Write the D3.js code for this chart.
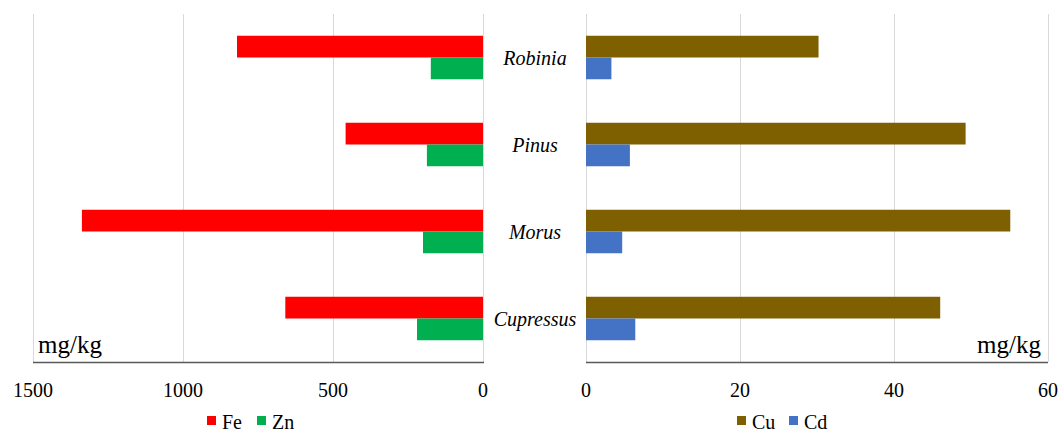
<!DOCTYPE html>
<meta charset="utf-8">
<style>
  body { margin: 0; background: #fff; }
  text { font-family: "Liberation Serif", "DejaVu Serif", serif; fill: #000; }
</style>
<body>
<script src="https://cdn.jsdelivr.net/npm/d3@7/dist/d3.min.js"></script>
<script>

    var width = 1059,
        height = 434;

    // data
    var species = ["Robinia", "Pinus", "Morus", "Cupressus"];
    var fe = [820, 458, 1337, 659];
    var zn = [174, 187, 200, 220];
    var cu = [30.2, 49.3, 55.1, 46.0];
    var cd = [3.3, 5.7, 4.7, 6.4];
    var leftTicks = [0, 500, 1000, 1500];
    var rightTicks = [0, 20, 40, 60];
    var leftSeries = ["Fe", "Zn"];
    var rightSeries = ["Cu", "Cd"];
    var colors = {Fe: "#ff0000", Zn: "#00b050", Cu: "#7f6000", Cd: "#4472c4"};

    var svg = d3.select("body").append("svg")
            .attr("width", width)
            .attr("height", height);

    var plotTop = 14, plotBottom = 362;

    var y = d3.scaleBand()
            .domain(species)
            .range([plotTop, plotBottom])
            .paddingInner(0.5)
            .paddingOuter(0.25);

    var xl = d3.scaleLinear().domain([0, 1500]).range([483, 33]);
    var xr = d3.scaleLinear().domain([0, 60]).range([586, 1048]);

    var subL = d3.scaleBand().domain(leftSeries).range([0, y.bandwidth()]);
    var subR = d3.scaleBand().domain(rightSeries).range([0, y.bandwidth()]);

    // gridlines
    function grid(scale, ticks) {
        svg.append("g").selectAll("line")
                .data(ticks)
                .enter().append("line")
                .attr("x1", function(d) { return Math.round(scale(d)) + 0.5; })
                .attr("x2", function(d) { return Math.round(scale(d)) + 0.5; })
                .attr("y1", plotTop)
                .attr("y2", plotBottom)
                .attr("stroke", "#d9d9d9")
                .attr("stroke-width", 1);
    }
    grid(xl, leftTicks);
    grid(xr, rightTicks);

    // bars
    var leftRows = species.map(function(s, i) { return {name: s, Fe: fe[i], Zn: zn[i]}; });
    var rightRows = species.map(function(s, i) { return {name: s, Cu: cu[i], Cd: cd[i]}; });

    function bars(rows, keys, scale, sub) {
        var g = svg.append("g").selectAll("g")
                .data(rows)
                .enter().append("g")
                .attr("transform", function(d) { return "translate(0," + y(d.name) + ")"; });
        g.selectAll("rect")
                .data(function(d) { return keys.map(function(k) { return {key: k, value: d[k]}; }); })
                .enter().append("rect")
                .attr("x", function(d) { return Math.min(scale(0), scale(d.value)); })
                .attr("width", function(d) { return Math.abs(scale(d.value) - scale(0)); })
                .attr("y", function(d) { return sub(d.key); })
                .attr("height", sub.bandwidth())
                .attr("fill", function(d) { return colors[d.key]; });
    }
    bars(leftRows, leftSeries, xl, subL);
    bars(rightRows, rightSeries, xr, subR);

    // axis lines
    svg.append("line")
            .attr("x1", xl(1500)).attr("x2", xl(0) + 1)
            .attr("y1", plotBottom + 0.5).attr("y2", plotBottom + 0.5)
            .attr("stroke", "#595959").attr("stroke-width", 1.5);
    svg.append("line")
            .attr("x1", xr(0)).attr("x2", xr(60))
            .attr("y1", plotBottom + 0.5).attr("y2", plotBottom + 0.5)
            .attr("stroke", "#595959").attr("stroke-width", 1.5);

    // tick labels
    function tickLabels(scale, ticks) {
        svg.append("g").selectAll("text")
                .data(ticks)
                .enter().append("text")
                .attr("x", function(d) { return scale(d); })
                .attr("y", 397)
                .attr("text-anchor", "middle")
                .style("font-size", "20px")
                .text(function(d) { return d; });
    }
    tickLabels(xl, leftTicks);
    tickLabels(xr, rightTicks);

    // species labels
    svg.append("g").selectAll("text")
            .data(species)
            .enter().append("text")
            .attr("x", 535)
            .attr("y", function(d) { return y(d) + y.bandwidth() / 2 + 7; })
            .attr("text-anchor", "middle")
            .style("font-size", "20px")
            .style("font-style", "italic")
            .text(function(d) { return d; });

    // units
    svg.append("text")
            .attr("x", 38).attr("y", 353)
            .style("font-size", "25px")
            .text("mg/kg");
    svg.append("text")
            .attr("x", 1041).attr("y", 353)
            .attr("text-anchor", "end")
            .style("font-size", "25px")
            .text("mg/kg");

    // legends
    function legend(keys, xs) {
        keys.forEach(function(k, i) {
            svg.append("rect")
                    .attr("x", xs[i]).attr("y", 416)
                    .attr("width", 9).attr("height", 9)
                    .attr("fill", colors[k]);
            svg.append("text")
                    .attr("x", xs[i] + 15).attr("y", 429)
                    .style("font-size", "20px")
                    .text(k);
        });
    }
    legend(leftSeries, [207, 257]);
    legend(rightSeries, [737, 789]);

</script>
</body>
